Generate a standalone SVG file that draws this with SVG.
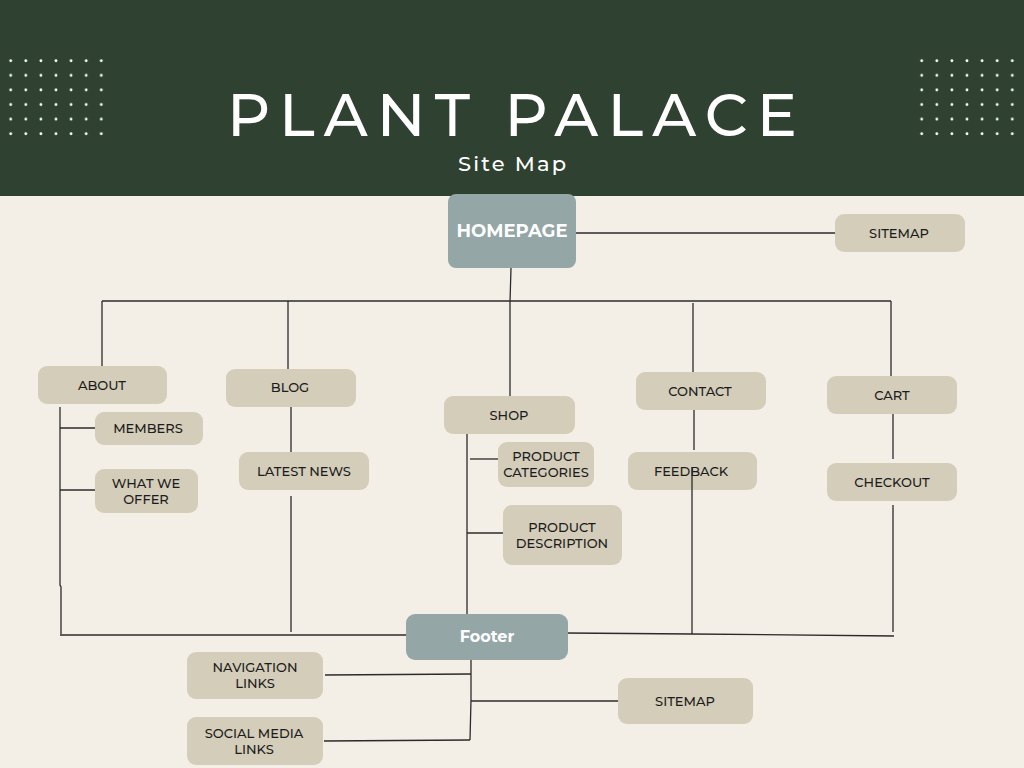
<svg xmlns="http://www.w3.org/2000/svg" width="1024" height="768" viewBox="0 0 1024 768">
  <defs>
    <style>
      .bg { fill: #f3efe7; }
      .header { fill: #2f4130; }
      .dot { fill: #ffffff; }
      .node { fill: #d4cdb9; }
      .main { fill: #94a6a6; }
      .label { font-family: "Montserrat", "Open Sans", "Liberation Sans", sans-serif; font-size: 13px; font-weight: 500; fill: #1c1c1c; text-anchor: middle; }
      .mainlabel { font-family: "Montserrat", "Open Sans", "Liberation Sans", sans-serif; font-weight: 700; fill: #ffffff; text-anchor: middle; }
      .title { font-family: "Montserrat", "Open Sans", "Liberation Sans", sans-serif; font-weight: 500; fill: #ffffff; text-anchor: middle; }
      .wire { stroke: #2b2b2b; stroke-width: 1.3; fill: none; }
    </style>
    <pattern id="dots" x="3.2" y="53.2" width="15.1" height="14.6" patternUnits="userSpaceOnUse">
      <circle class="dot" cx="7.5" cy="7.5" r="1.4"/>
    </pattern>
  </defs>

  <!-- page background and header band -->
  <rect class="bg" x="0" y="0" width="1024" height="196"/>
  <rect class="bg" x="0" y="0" width="1024" height="768"/>
  <rect class="header" x="0" y="0" width="1024" height="196"/>

  <!-- dot grids -->
  <rect x="3" y="53" width="106" height="88" fill="url(#dots)"/>
  <g transform="translate(911,0)">
    <rect x="3" y="53" width="106" height="88" fill="url(#dots)"/>
  </g>

  <text class="title" x="512" y="136" font-size="60" textLength="570" lengthAdjust="spacing">PLANT PALACE</text>
  <text class="title" x="512" y="171" font-size="21" textLength="108" lengthAdjust="spacing">Site Map</text>

  <!-- connectors -->
  <g id="connectors" class="wire">
    <line x1="576" y1="233" x2="835" y2="233"/>
    <polyline points="511,268 510,302 510,398"/>
    <line x1="102" y1="301" x2="891" y2="301"/>
    <line x1="102" y1="301" x2="102" y2="366"/>
    <line x1="288" y1="301" x2="288" y2="369"/>
    <line x1="693" y1="303" x2="693" y2="372"/>
    <line x1="891" y1="301" x2="891" y2="376"/>

    <!-- about branch -->
    <polyline points="60,407 60,585 61,587 61,634"/>
    <line x1="60" y1="428" x2="95" y2="428"/>
    <line x1="60" y1="490" x2="95" y2="490"/>

    <!-- blog branch -->
    <line x1="291" y1="407" x2="291" y2="452"/>
    <line x1="291" y1="496" x2="291" y2="632"/>

    <!-- shop branch -->
    <line x1="467" y1="434" x2="467" y2="614"/>
    <line x1="470" y1="459" x2="498" y2="459"/>
    <line x1="467" y1="533" x2="503" y2="533"/>

    <!-- contact branch -->
    <line x1="694" y1="410" x2="694" y2="450"/>
    <line x1="692" y1="467" x2="692" y2="634"/>

    <!-- cart branch -->
    <line x1="893" y1="414" x2="893" y2="459"/>
    <line x1="893" y1="505" x2="893" y2="632"/>

    <!-- footer bus -->
    <line x1="60" y1="635" x2="406" y2="635"/>
    <polyline points="566,633 692,634 894,636"/>

    <!-- footer branch -->
    <polyline points="471,660 471,700 470,740"/>
    <line x1="325" y1="675" x2="471" y2="674"/>
    <line x1="471" y1="701" x2="618" y2="701"/>
    <line x1="324" y1="741" x2="470" y2="740"/>
  </g>

  <!-- nodes -->
  <g id="homepage">
    <rect class="main" x="448" y="194" width="128" height="74" rx="8"/>
    <text class="mainlabel" x="512" y="237" font-size="18">HOMEPAGE</text>
  </g>
  <g id="sitemap-top">
    <rect class="node" x="835" y="214" width="130" height="38" rx="9"/>
    <text class="label" x="899" y="238">SITEMAP</text>
  </g>
  <g id="about">
    <rect class="node" x="38" y="366" width="129" height="38" rx="9"/>
    <text class="label" x="102" y="390">ABOUT</text>
  </g>
  <g id="members">
    <rect class="node" x="95" y="412" width="108" height="33" rx="9"/>
    <text class="label" x="148" y="433">MEMBERS</text>
  </g>
  <g id="what-we-offer">
    <rect class="node" x="95" y="469" width="103" height="44" rx="9"/>
    <text class="label" x="146" y="488">WHAT WE</text>
    <text class="label" x="146" y="504">OFFER</text>
  </g>
  <g id="blog">
    <rect class="node" x="226" y="369" width="130" height="38" rx="9"/>
    <text class="label" x="290" y="392">BLOG</text>
  </g>
  <g id="latest-news">
    <rect class="node" x="239" y="452" width="130" height="38" rx="9"/>
    <text class="label" x="304" y="476">LATEST NEWS</text>
  </g>
  <g id="shop">
    <rect class="node" x="444" y="396" width="131" height="38" rx="9"/>
    <text class="label" x="509" y="420">SHOP</text>
  </g>
  <g id="product-categories">
    <rect class="node" x="498" y="442" width="96" height="45" rx="9"/>
    <text class="label" x="546" y="461">PRODUCT</text>
    <text class="label" x="546" y="477">CATEGORIES</text>
  </g>
  <g id="product-description">
    <rect class="node" x="503" y="505" width="119" height="60" rx="9"/>
    <text class="label" x="562" y="532">PRODUCT</text>
    <text class="label" x="562" y="548">DESCRIPTION</text>
  </g>
  <g id="contact">
    <rect class="node" x="636" y="372" width="130" height="38" rx="9"/>
    <text class="label" x="700" y="396">CONTACT</text>
  </g>
  <g id="feedback">
    <rect class="node" x="628" y="452" width="129" height="38" rx="9"/>
    <text class="label" x="691" y="476">FEEDBACK</text>
  </g>
  <!-- the contact line runs on through the feedback label -->
  <line class="wire" x1="692" y1="467" x2="692" y2="490"/>
  <g id="cart">
    <rect class="node" x="827" y="376" width="130" height="38" rx="9"/>
    <text class="label" x="892" y="400">CART</text>
  </g>
  <g id="checkout">
    <rect class="node" x="827" y="463" width="130" height="38" rx="9"/>
    <text class="label" x="892" y="487">CHECKOUT</text>
  </g>
  <g id="footer">
    <rect class="main" x="406" y="614" width="162" height="46" rx="9"/>
    <text class="mainlabel" x="487" y="642" font-size="16">Footer</text>
  </g>
  <g id="navigation-links">
    <rect class="node" x="187" y="652" width="136" height="47" rx="9"/>
    <text class="label" x="255" y="672">NAVIGATION</text>
    <text class="label" x="255" y="688">LINKS</text>
  </g>
  <g id="social-media-links">
    <rect class="node" x="187" y="717" width="136" height="48" rx="9"/>
    <text class="label" x="254" y="738">SOCIAL MEDIA</text>
    <text class="label" x="254" y="754">LINKS</text>
  </g>
  <g id="sitemap-bottom">
    <rect class="node" x="618" y="678" width="135" height="46" rx="9"/>
    <text class="label" x="685" y="706">SITEMAP</text>
  </g>
</svg>
